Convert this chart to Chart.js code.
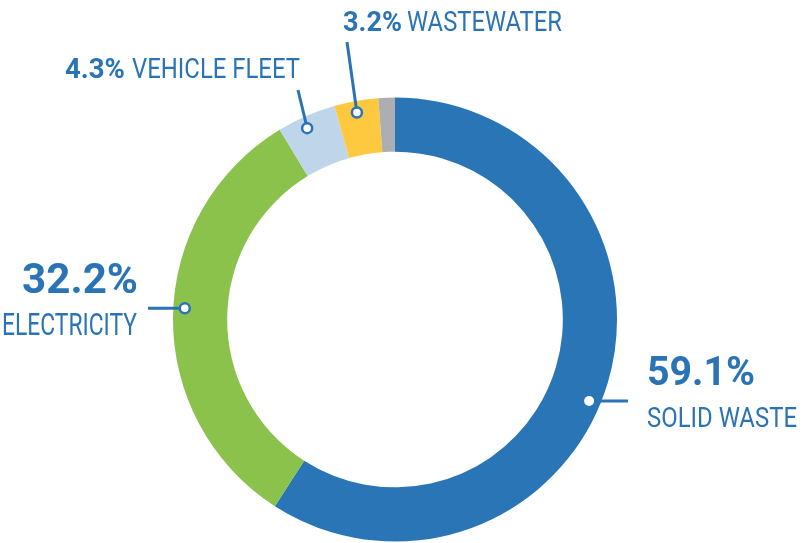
<!DOCTYPE html>
<html>
<head>
<meta charset="utf-8">
<script src="https://cdn.jsdelivr.net/npm/chart.js@4.4.1/dist/chart.umd.min.js"></script>
<style>
  html, body { margin: 0; padding: 0; background: #ffffff; }
  #wrap { position: relative; width: 804px; height: 543px; }
</style>
</head>
<body>
<div id="wrap"><canvas id="c"></canvas></div>
<script>
// ---- data ----
const categories = ['SOLID WASTE', 'ELECTRICITY', 'VEHICLE FLEET', 'WASTEWATER', 'OTHER'];
const values = [59.1, 32.2, 4.3, 3.2, 1.2];
const colors = ['#2975b5', '#8bc24c', '#bed5ea', '#fec93f', '#adaeb1'];
const showLabel = [true, true, true, true, false];

// ---- label layout (positions / styles only) ----
const TEXT_BLUE = '#2a74b6';
const labelLayout = [
  { frac: 0.53, lineTo: [628, null], dotStroke: false,
    pct: { x: 647, y: 385, size: 40, w: 108 }, name: { x: 647, y: 427, size: 28, w: 150 } },
  { frac: 0.52, lineTo: [148, null], dotStroke: true,
    pct: { x: 22, y: 293, size: 43, w: 116 }, name: { x: 2, y: 335, size: 31, w: 135 } },
  { frac: 0.43, lineTo: [298, 90], dotStroke: true,
    pct: { x: 65, y: 78, size: 27, w: 60 }, name: { x: 132, y: 78, size: 27, w: 168 } },
  { frac: 0.47, lineTo: [347, 42], dotStroke: true,
    pct: { x: 343, y: 31, size: 27, w: 59 }, name: { x: 407, y: 31, size: 27, w: 155 } },
  null
];

function drawFitText(ctx, text, x, y, size, weight, w) {
  ctx.save();
  ctx.font = weight + ' ' + size + 'px Roboto, "Liberation Sans", sans-serif';
  const mw = ctx.measureText(text).width;
  const sx = w / mw;
  ctx.translate(x, y);
  ctx.scale(sx, 1);
  ctx.textBaseline = 'alphabetic';
  ctx.textAlign = 'left';
  ctx.fillStyle = TEXT_BLUE;
  ctx.fillText(text, 0, 0);
  ctx.restore();
}

const labelPlugin = {
  id: 'callouts',
  afterDatasetsDraw(chart) {
    const ctx = chart.ctx;
    const meta = chart.getDatasetMeta(0);
    meta.data.forEach((arc, i) => {
      if (!showLabel[i] || !labelLayout[i]) return;
      const L = labelLayout[i];
      const p = arc.getProps(['x', 'y', 'startAngle', 'endAngle', 'innerRadius', 'outerRadius'], true);
      const ang = p.startAngle + (p.endAngle - p.startAngle) * L.frac;
      const r = p.outerRadius - 11.5;
      const dx = p.x + Math.cos(ang) * r;
      const dy = p.y + Math.sin(ang) * r;
      const ex = L.lineTo[0];
      const ey = L.lineTo[1] === null ? dy : L.lineTo[1];
      ctx.save();
      ctx.strokeStyle = TEXT_BLUE;
      ctx.lineWidth = 3;
      ctx.beginPath();
      ctx.moveTo(ex, ey);
      ctx.lineTo(dx, dy);
      ctx.stroke();
      ctx.beginPath();
      ctx.arc(dx, dy, 5, 0, Math.PI * 2);
      ctx.fillStyle = '#ffffff';
      ctx.fill();
      if (L.dotStroke) {
        ctx.lineWidth = 2.5;
        ctx.stroke();
      }
      ctx.restore();
      const pctText = values[i].toFixed(1) + '%';
      drawFitText(ctx, pctText, L.pct.x, L.pct.y, L.pct.size, 'bold', L.pct.w);
      drawFitText(ctx, categories[i], L.name.x, L.name.y, L.name.size, 'normal', L.name.w);
    });
  }
};

new Chart(document.getElementById('c'), {
  type: 'doughnut',
  data: {
    labels: categories,
    datasets: [{
      data: values,
      backgroundColor: colors,
      borderWidth: 0,
      hoverOffset: 0
    }]
  },
  options: {
    responsive: true,
    maintainAspectRatio: false,
    animation: false,
    cutout: '75.6%',
    rotation: 0,
    layout: { padding: { top: 97.5, bottom: 1.5, left: 173, right: 187 } },
    plugins: {
      legend: { display: false },
      tooltip: { enabled: false }
    }
  },
  plugins: [labelPlugin]
});
</script>
</body>
</html>
